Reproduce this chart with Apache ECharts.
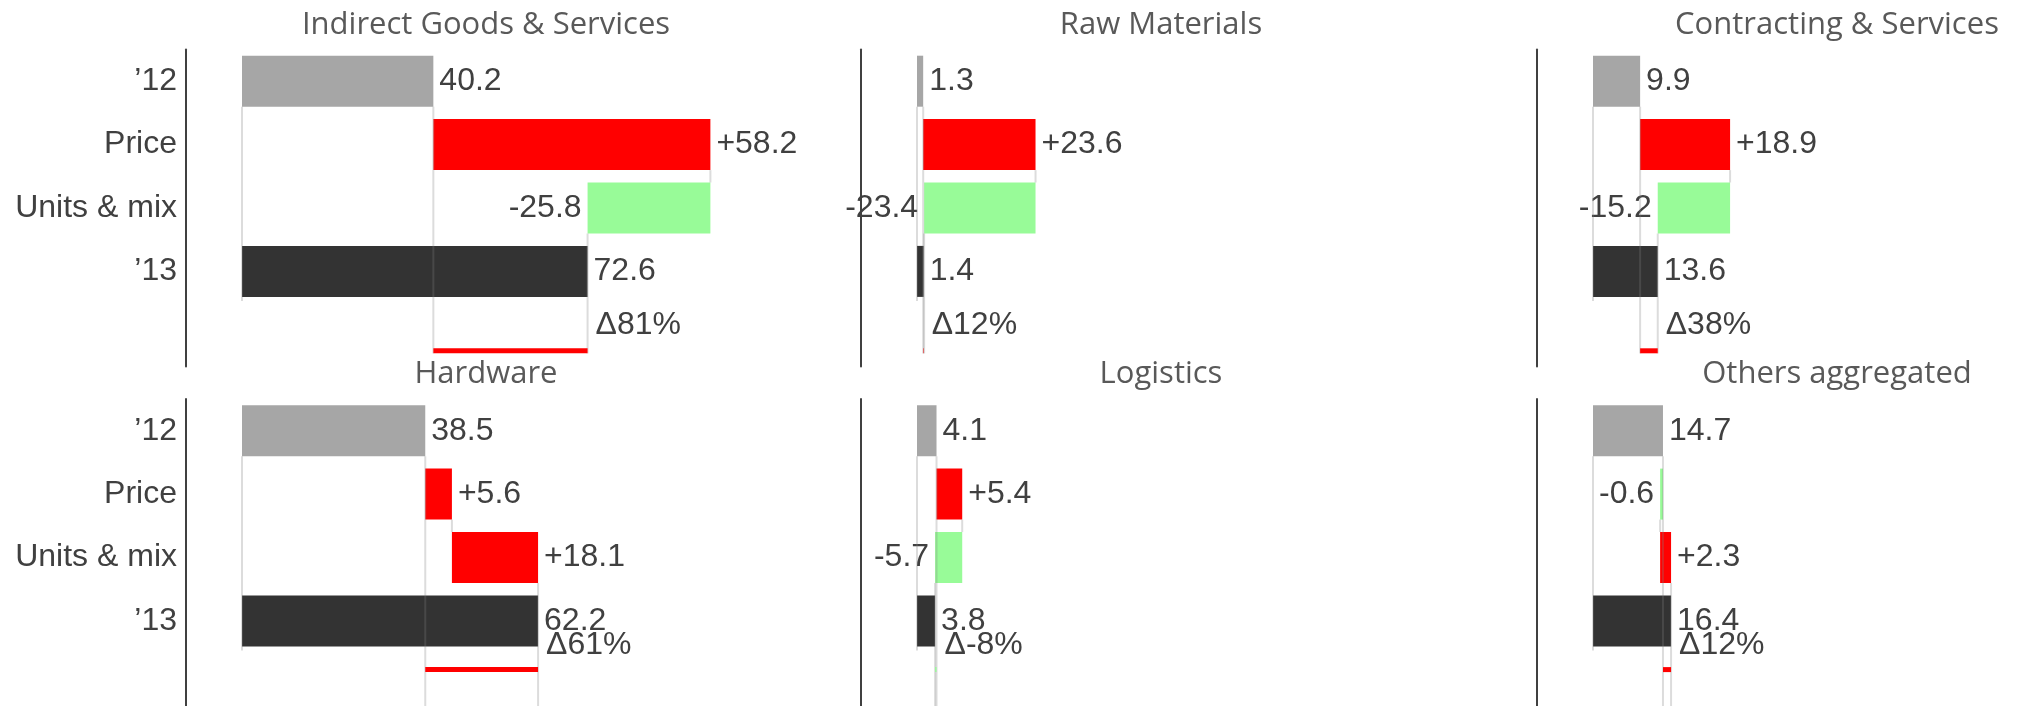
<!DOCTYPE html>
<html>
<head>
<meta charset="utf-8">
<script src="https://cdn.jsdelivr.net/npm/echarts@6/dist/echarts.min.js"></script>
<style>
  html, body { margin: 0; padding: 0; background: #ffffff; }
  #chart { width: 2022px; height: 706px; }
</style>
</head>
<body>
<div id="chart"></div>
<script>
// Spend bridge '12 -> '13 per category: price effect and units & mix effect
const panelTitles = ['Indirect Goods & Services', 'Raw Materials', 'Contracting & Services',
                     'Hardware', 'Logistics', 'Others aggregated'];
const categories = ['\u201912', 'Price', 'Units & mix', '\u201913', ''];
const value2012 = [40.2, 1.3, 9.9, 38.5, 4.1, 14.7];
const priceEffect = [58.2, 23.6, 18.9, 5.6, 5.4, -0.6];
const unitsMixEffect = [-25.8, -23.4, -15.2, 18.1, -5.7, 2.3];
const value2013 = [72.6, 1.4, 13.6, 62.2, 3.8, 16.4];
const deltaPercent = [81, 12, 38, 61, -8, 12];

// Layout of the 3 x 2 small multiples
const COL_LEFT = [186, 861, 1537];
const ROW_TOP = [49.5, 399];
const GRID_W = 600, GRID_H = 317;
const PX_PER_UNIT = 4.76, ZERO_INSET = 56;
const X_MIN = -ZERO_INSET / PX_PER_UNIT;
const X_MAX = X_MIN + GRID_W / PX_PER_UNIT;
const BAR_W = 51;
// Change marker under the '13 bar: offsets in px from the '13 row centre
const DELTA_ROW = [
  { label: 54, bar: 79.4, reach: 82 },
  { label: 24.5, bar: 48.7, reach: 110 }
];

const COLORS = {
  start: '#a6a6a6', end: '#333333', up: '#ff0000', down: '#98fb98',
  text: '#404040', title: '#595959', axis: '#404040', guide: 'rgba(128,128,128,0.28)'
};
const FONT = "'Liberation Sans', Arial, sans-serif";
const TITLE_FONT = "'Open Sans', sans-serif";
const FONT_SIZE = 32;

const r1 = v => Math.round(v * 10) / 10;
const signed = v => (v > 0 ? '+' : '') + v.toFixed(1);

const grids = [], xAxes = [], yAxes = [], series = [], titles = [];

panelTitles.forEach((name, p) => {
  const col = p % 3, row = Math.floor(p / 3);
  const v12 = value2012[p], pr = priceEffect[p], um = unitsMixEffect[p], v13 = value2013[p];
  const afterPrice = r1(v12 + pr);
  const afterUnits = r1(afterPrice + um);

  grids.push({
    left: COL_LEFT[col], top: ROW_TOP[row], width: GRID_W, height: GRID_H,
    outerBoundsMode: 'none', containLabel: false
  });
  xAxes.push({ type: 'value', gridIndex: p, min: X_MIN, max: X_MAX, show: false });
  yAxes.push({
    type: 'category', gridIndex: p, data: categories, inverse: true,
    axisLine: { show: true, onZero: false, lineStyle: { color: COLORS.axis, width: 2 } },
    axisTick: { show: false }, splitLine: { show: false },
    axisLabel: { show: col === 0, color: COLORS.text, fontSize: FONT_SIZE, fontFamily: FONT, margin: 9 }
  });
  titles.push({
    text: name, left: COL_LEFT[col] + GRID_W / 2, top: ROW_TOP[row] - 40, padding: 0,
    textAlign: 'center',
    textStyle: { fontFamily: TITLE_FONT, fontSize: 31, fontWeight: 'normal', color: COLORS.title }
  });

  const stack = 'bridge' + p;
  // invisible offsets that float the effect bars
  series.push({
    type: 'bar', xAxisIndex: p, yAxisIndex: p, stack, silent: true, barWidth: BAR_W,
    itemStyle: { color: 'rgba(0,0,0,0)' },
    data: [0, Math.min(v12, afterPrice), Math.min(afterPrice, afterUnits), 0, '-']
  });
  const effectItem = (v) => ({
    value: Math.abs(v),
    itemStyle: { color: v >= 0 ? COLORS.up : COLORS.down },
    label: { position: v >= 0 ? 'right' : 'left', formatter: signed(v) }
  });
  series.push({
    type: 'bar', xAxisIndex: p, yAxisIndex: p, stack, barWidth: BAR_W, z: 2,
    label: { show: true, distance: 6, color: COLORS.text, fontSize: FONT_SIZE, fontFamily: FONT },
    data: [
      { value: v12, itemStyle: { color: COLORS.start }, label: { position: 'right', formatter: v12.toFixed(1) } },
      effectItem(pr),
      effectItem(um),
      { value: v13, itemStyle: { color: COLORS.end }, label: { position: 'right', formatter: v13.toFixed(1) } },
      '-'
    ]
  });
  // connector guides, change bar and change label
  const rowCfg = DELTA_ROW[row];
  series.push({
    type: 'custom', xAxisIndex: p, yAxisIndex: p, z: 4, silent: true, clip: false,
    encode: { x: 0, y: 5 },
    data: [[v12, afterPrice, afterUnits, v13, deltaPercent[p], 3]],
    renderItem: (params, api) => {
      const a = api.value(0), b = api.value(1), c = api.value(2), d = api.value(3), pct = api.value(4);
      const X = v => api.coord([v, 0])[0];
      const Y = i => api.coord([0, i])[1];
      const h = BAR_W / 2;
      const line = (x, y1, y2) => ({
        type: 'line', shape: { x1: x, y1, x2: x, y2 },
        style: { stroke: COLORS.guide, lineWidth: 2 }
      });
      const lo = Math.min(a, d), hi = Math.max(a, d);
      const yEnd = Y(3);
      return {
        type: 'group',
        children: [
          line(X(0), Y(0) + h, yEnd + h + 4),
          line(X(a), Y(0) + h, yEnd + rowCfg.reach),
          line(X(b), Y(1) + h, Y(2) - h),
          line(X(c), Y(2) + h, yEnd + rowCfg.reach),
          {
            type: 'rect',
            shape: { x: X(lo), y: yEnd + rowCfg.bar - 2.5, width: X(hi) - X(lo), height: 5 },
            style: { fill: d >= a ? COLORS.up : COLORS.down }
          },
          {
            type: 'text',
            style: {
              text: '\u0394' + pct + '%', x: X(hi) + 8, y: yEnd + rowCfg.label,
              fill: COLORS.text, fontSize: FONT_SIZE, fontFamily: FONT,
              align: 'left', verticalAlign: 'middle'
            }
          }
        ]
      };
    }
  });
});

const chart = echarts.init(document.getElementById('chart'), null, { renderer: 'canvas' });
chart.setOption({
  animation: false,
  backgroundColor: '#ffffff',
  title: titles,
  grid: grids,
  xAxis: xAxes,
  yAxis: yAxes,
  series
});
</script>
</body>
</html>
